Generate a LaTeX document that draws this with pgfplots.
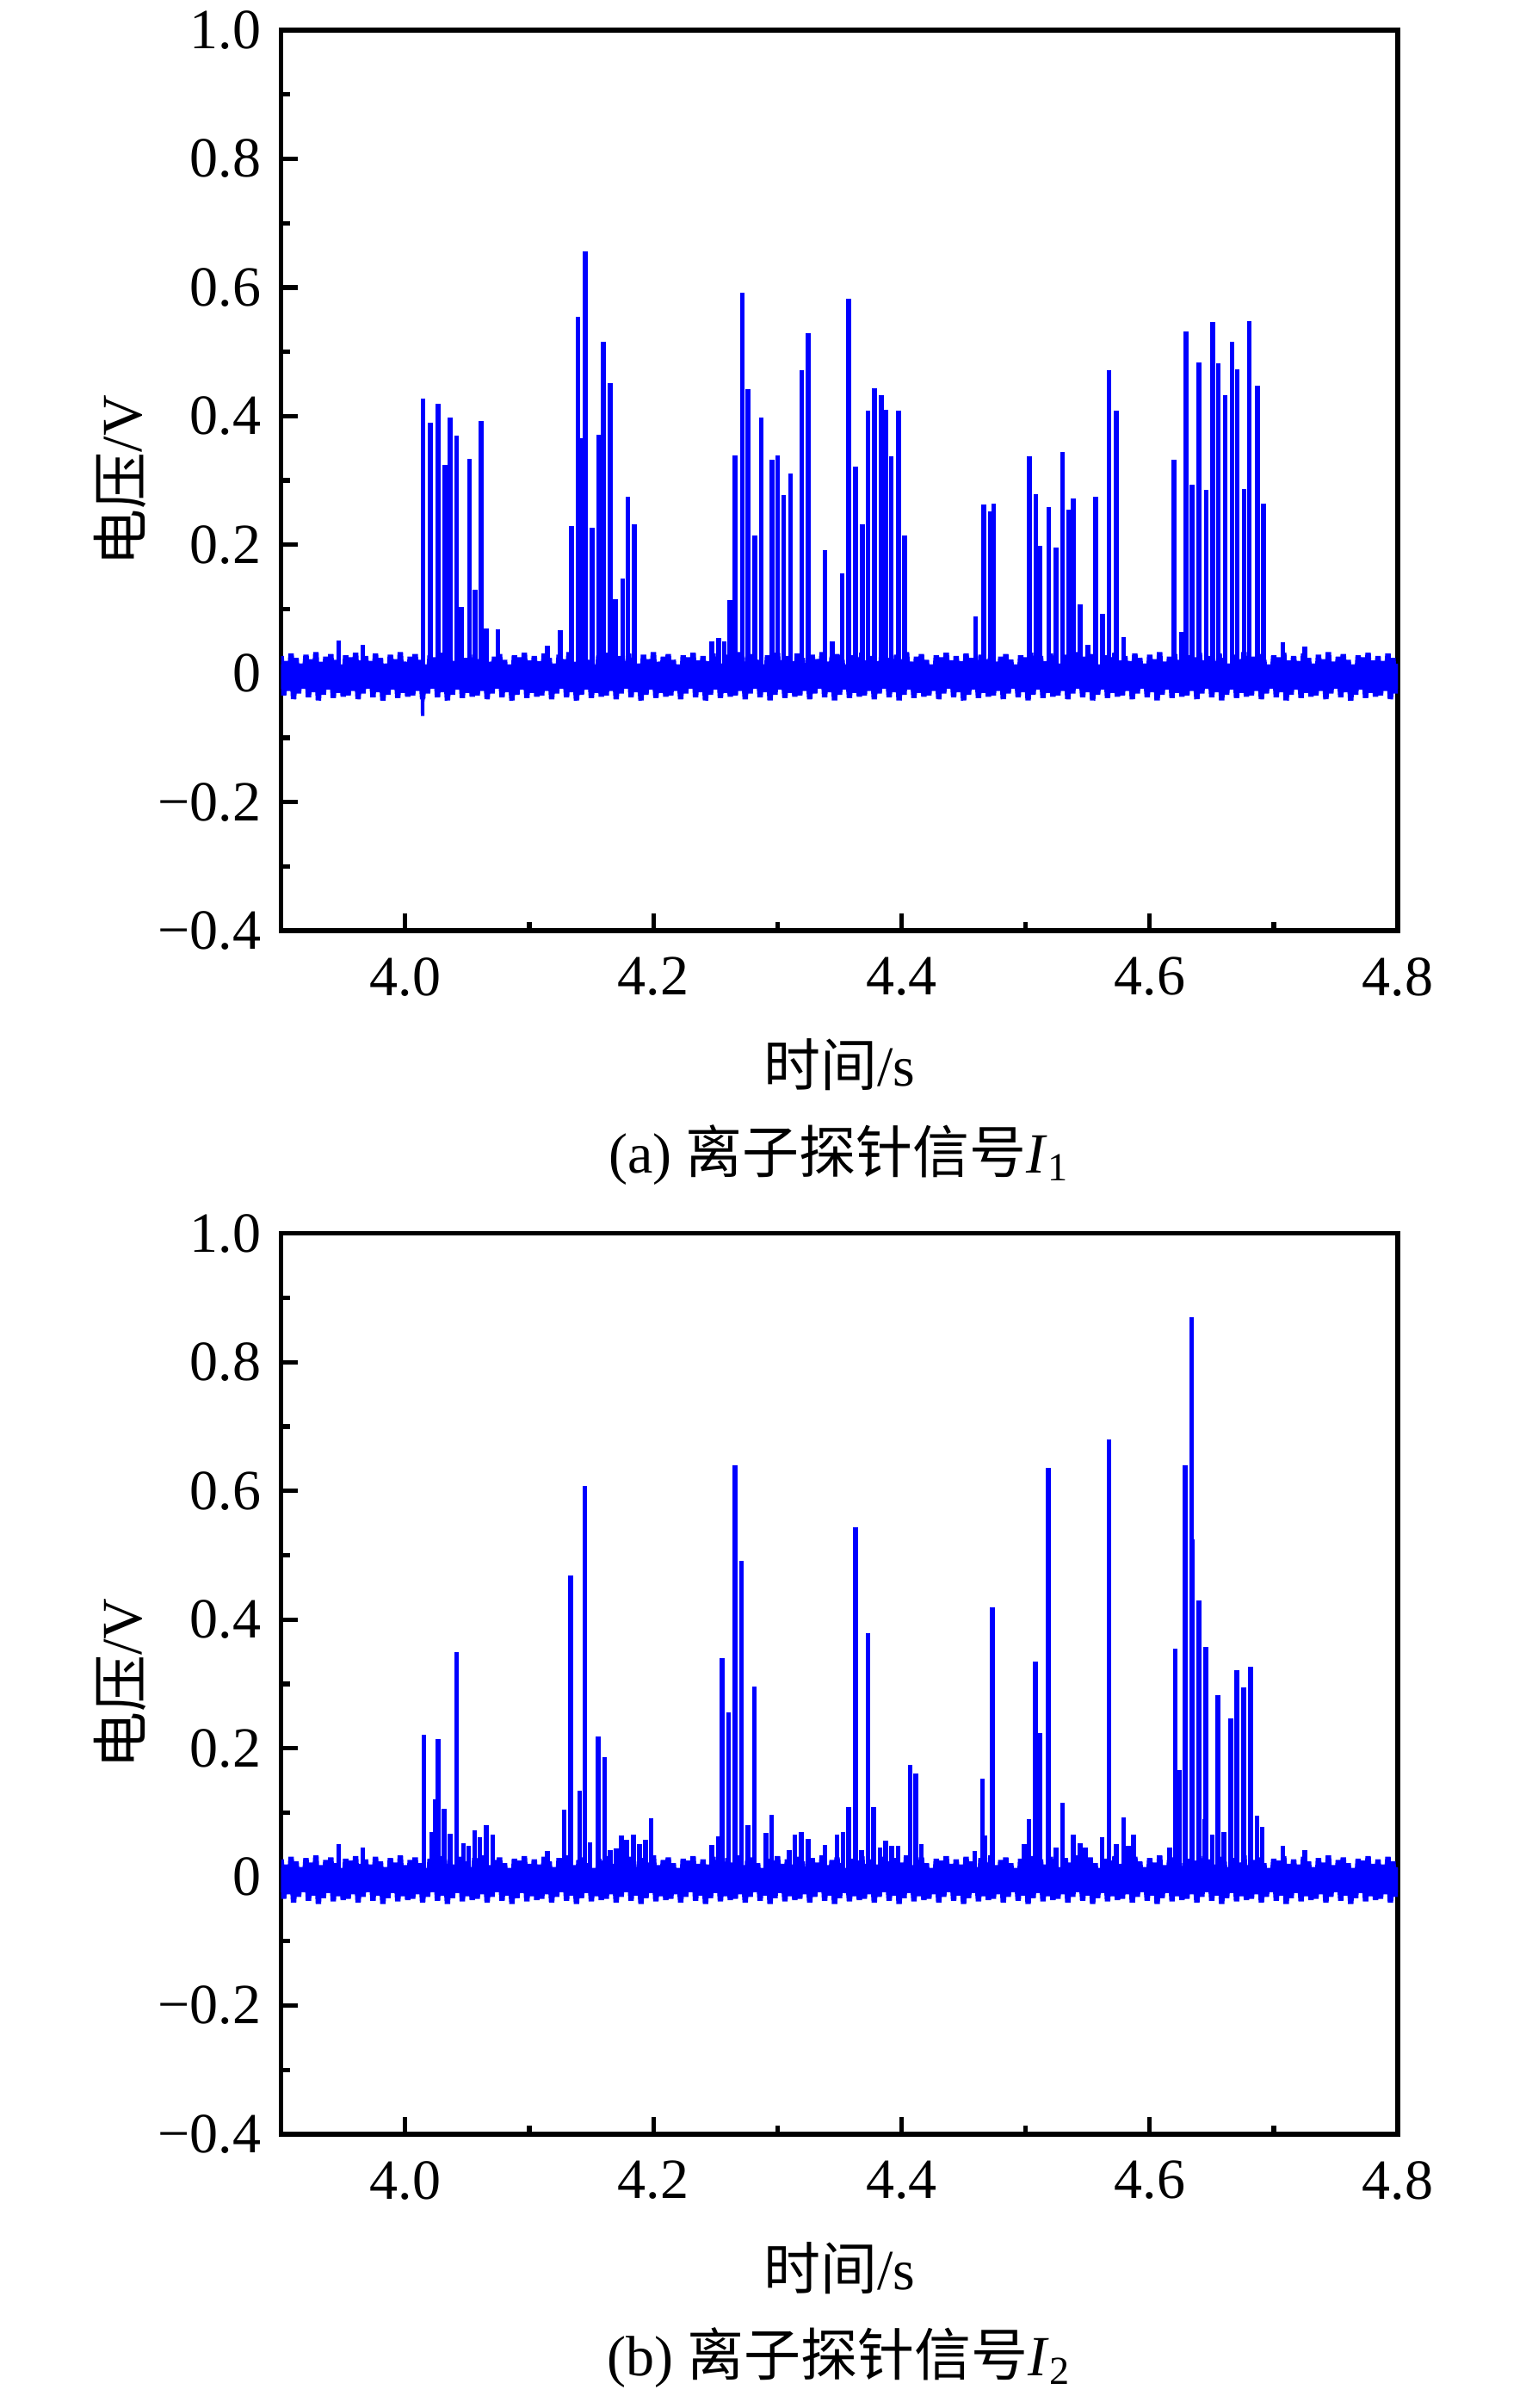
\documentclass[border=0pt]{standalone}
\usepackage{fontspec}
\setmainfont{Liberation Serif}
\newfontfamily\cjk{Noto Sans CJK SC}
\usepackage{pgfplots}
\usepackage{pgfplotstable}
\pgfplotsset{compat=1.18}
\definecolor{sig}{RGB}{0,0,255}

\pgfplotstableread[row sep=\\]{
x y\\
3.900 0.027\\ 3.902 -0.034\\ 3.904 0.019\\ 3.906 -0.027\\ 3.908 0.031\\ 3.910 -0.040\\ 3.912 0.024\\ 3.914 -0.031\\
3.916 0.015\\ 3.918 -0.022\\ 3.920 0.029\\ 3.922 -0.037\\ 3.924 0.022\\ 3.926 -0.029\\ 3.928 0.033\\ 3.930 -0.042\\
3.932 0.018\\ 3.934 -0.033\\ 3.936 0.026\\ 3.938 -0.025\\ 3.940 0.030\\ 3.942 -0.038\\ 3.944 0.021\\ 3.946 -0.030\\
3.948 0.013\\ 3.950 -0.036\\ 3.952 0.028\\ 3.954 -0.034\\ 3.956 0.025\\ 3.958 -0.027\\ 3.960 0.032\\ 3.962 -0.040\\
3.964 0.020\\ 3.966 -0.031\\ 3.968 0.027\\ 3.970 -0.022\\ 3.972 0.019\\ 3.974 -0.037\\ 3.976 0.031\\ 3.978 -0.029\\
3.980 0.024\\ 3.982 -0.042\\ 3.984 0.015\\ 3.986 -0.033\\ 3.988 0.029\\ 3.990 -0.025\\ 3.992 0.022\\ 3.994 -0.038\\
3.996 0.033\\ 3.998 -0.030\\ 4.000 0.018\\ 4.002 -0.036\\ 4.004 0.026\\ 4.006 -0.034\\ 4.008 0.030\\ 4.010 -0.027\\
4.012 0.021\\ 4.014 -0.040\\ 4.016 0.013\\ 4.018 -0.031\\ 4.020 0.028\\ 4.022 -0.022\\ 4.024 0.025\\ 4.026 -0.037\\
4.028 0.032\\ 4.030 -0.029\\ 4.032 0.020\\ 4.034 -0.042\\ 4.036 0.027\\ 4.038 -0.033\\ 4.040 0.019\\ 4.042 -0.025\\
4.044 0.031\\ 4.046 -0.038\\ 4.048 0.024\\ 4.050 -0.030\\ 4.052 0.015\\ 4.054 -0.036\\ 4.056 0.029\\ 4.058 -0.034\\
4.060 0.022\\ 4.062 -0.027\\ 4.064 0.033\\ 4.066 -0.040\\ 4.068 0.018\\ 4.070 -0.031\\ 4.072 0.026\\ 4.074 -0.022\\
4.076 0.030\\ 4.078 -0.037\\ 4.080 0.021\\ 4.082 -0.029\\ 4.084 0.013\\ 4.086 -0.042\\ 4.088 0.028\\ 4.090 -0.033\\
4.092 0.025\\ 4.094 -0.025\\ 4.096 0.032\\ 4.098 -0.038\\ 4.100 0.020\\ 4.102 -0.030\\ 4.104 0.027\\ 4.106 -0.036\\
4.108 0.019\\ 4.110 -0.034\\ 4.112 0.031\\ 4.114 -0.027\\ 4.116 0.024\\ 4.118 -0.040\\ 4.120 0.015\\ 4.122 -0.031\\
4.124 0.029\\ 4.126 -0.022\\ 4.128 0.022\\ 4.130 -0.037\\ 4.132 0.033\\ 4.134 -0.029\\ 4.136 0.018\\ 4.138 -0.042\\
4.140 0.026\\ 4.142 -0.033\\ 4.144 0.030\\ 4.146 -0.025\\ 4.148 0.021\\ 4.150 -0.038\\ 4.152 0.013\\ 4.154 -0.030\\
4.156 0.028\\ 4.158 -0.036\\ 4.160 0.025\\ 4.162 -0.034\\ 4.164 0.032\\ 4.166 -0.027\\ 4.168 0.020\\ 4.170 -0.040\\
4.172 0.027\\ 4.174 -0.031\\ 4.176 0.019\\ 4.178 -0.022\\ 4.180 0.031\\ 4.182 -0.037\\ 4.184 0.024\\ 4.186 -0.029\\
4.188 0.015\\ 4.190 -0.042\\ 4.192 0.029\\ 4.194 -0.033\\ 4.196 0.022\\ 4.198 -0.025\\ 4.200 0.033\\ 4.202 -0.038\\
4.204 0.018\\ 4.206 -0.030\\ 4.208 0.026\\ 4.210 -0.036\\ 4.212 0.030\\ 4.214 -0.034\\ 4.216 0.021\\ 4.218 -0.027\\
4.220 0.013\\ 4.222 -0.040\\ 4.224 0.028\\ 4.226 -0.031\\ 4.228 0.025\\ 4.230 -0.022\\ 4.232 0.032\\ 4.234 -0.037\\
4.236 0.020\\ 4.238 -0.029\\ 4.240 0.027\\ 4.242 -0.042\\ 4.244 0.019\\ 4.246 -0.033\\ 4.248 0.031\\ 4.250 -0.025\\
4.252 0.024\\ 4.254 -0.038\\ 4.256 0.015\\ 4.258 -0.030\\ 4.260 0.029\\ 4.262 -0.036\\ 4.264 0.022\\ 4.266 -0.034\\
4.268 0.033\\ 4.270 -0.027\\ 4.272 0.018\\ 4.274 -0.040\\ 4.276 0.026\\ 4.278 -0.031\\ 4.280 0.030\\ 4.282 -0.022\\
4.284 0.021\\ 4.286 -0.037\\ 4.288 0.013\\ 4.290 -0.029\\ 4.292 0.028\\ 4.294 -0.042\\ 4.296 0.025\\ 4.298 -0.033\\
4.300 0.032\\ 4.302 -0.025\\ 4.304 0.020\\ 4.306 -0.038\\ 4.308 0.027\\ 4.310 -0.030\\ 4.312 0.019\\ 4.314 -0.036\\
4.316 0.031\\ 4.318 -0.034\\ 4.320 0.024\\ 4.322 -0.027\\ 4.324 0.015\\ 4.326 -0.040\\ 4.328 0.029\\ 4.330 -0.031\\
4.332 0.022\\ 4.334 -0.022\\ 4.336 0.033\\ 4.338 -0.037\\ 4.340 0.018\\ 4.342 -0.029\\ 4.344 0.026\\ 4.346 -0.042\\
4.348 0.030\\ 4.350 -0.033\\ 4.352 0.021\\ 4.354 -0.025\\ 4.356 0.013\\ 4.358 -0.038\\ 4.360 0.028\\ 4.362 -0.030\\
4.364 0.025\\ 4.366 -0.036\\ 4.368 0.032\\ 4.370 -0.034\\ 4.372 0.020\\ 4.374 -0.027\\ 4.376 0.027\\ 4.378 -0.040\\
4.380 0.019\\ 4.382 -0.031\\ 4.384 0.031\\ 4.386 -0.022\\ 4.388 0.024\\ 4.390 -0.037\\ 4.392 0.015\\ 4.394 -0.029\\
4.396 0.029\\ 4.398 -0.042\\ 4.400 0.022\\ 4.402 -0.033\\ 4.404 0.033\\ 4.406 -0.025\\ 4.408 0.018\\ 4.410 -0.038\\
4.412 0.026\\ 4.414 -0.030\\ 4.416 0.030\\ 4.418 -0.036\\ 4.420 0.021\\ 4.422 -0.034\\ 4.424 0.013\\ 4.426 -0.027\\
4.428 0.028\\ 4.430 -0.040\\ 4.432 0.025\\ 4.434 -0.031\\ 4.436 0.032\\ 4.438 -0.022\\ 4.440 0.020\\ 4.442 -0.037\\
4.444 0.027\\ 4.446 -0.029\\ 4.448 0.019\\ 4.450 -0.042\\ 4.452 0.031\\ 4.454 -0.033\\ 4.456 0.024\\ 4.458 -0.025\\
4.460 0.015\\ 4.462 -0.038\\ 4.464 0.029\\ 4.466 -0.030\\ 4.468 0.022\\ 4.470 -0.036\\ 4.472 0.033\\ 4.474 -0.034\\
4.476 0.018\\ 4.478 -0.027\\ 4.480 0.026\\ 4.482 -0.040\\ 4.484 0.030\\ 4.486 -0.031\\ 4.488 0.021\\ 4.490 -0.022\\
4.492 0.013\\ 4.494 -0.037\\ 4.496 0.028\\ 4.498 -0.029\\ 4.500 0.025\\ 4.502 -0.042\\ 4.504 0.032\\ 4.506 -0.033\\
4.508 0.020\\ 4.510 -0.025\\ 4.512 0.027\\ 4.514 -0.038\\ 4.516 0.019\\ 4.518 -0.030\\ 4.520 0.031\\ 4.522 -0.036\\
4.524 0.024\\ 4.526 -0.034\\ 4.528 0.015\\ 4.530 -0.027\\ 4.532 0.029\\ 4.534 -0.040\\ 4.536 0.022\\ 4.538 -0.031\\
4.540 0.033\\ 4.542 -0.022\\ 4.544 0.018\\ 4.546 -0.037\\ 4.548 0.026\\ 4.550 -0.029\\ 4.552 0.030\\ 4.554 -0.042\\
4.556 0.021\\ 4.558 -0.033\\ 4.560 0.013\\ 4.562 -0.025\\ 4.564 0.028\\ 4.566 -0.038\\ 4.568 0.025\\ 4.570 -0.030\\
4.572 0.032\\ 4.574 -0.036\\ 4.576 0.020\\ 4.578 -0.034\\ 4.580 0.027\\ 4.582 -0.027\\ 4.584 0.019\\ 4.586 -0.040\\
4.588 0.031\\ 4.590 -0.031\\ 4.592 0.024\\ 4.594 -0.022\\ 4.596 0.015\\ 4.598 -0.037\\ 4.600 0.029\\ 4.602 -0.029\\
4.604 0.022\\ 4.606 -0.042\\ 4.608 0.033\\ 4.610 -0.033\\ 4.612 0.018\\ 4.614 -0.025\\ 4.616 0.026\\ 4.618 -0.038\\
4.620 0.030\\ 4.622 -0.030\\ 4.624 0.021\\ 4.626 -0.036\\ 4.628 0.013\\ 4.630 -0.034\\ 4.632 0.028\\ 4.634 -0.027\\
4.636 0.025\\ 4.638 -0.040\\ 4.640 0.032\\ 4.642 -0.031\\ 4.644 0.020\\ 4.646 -0.022\\ 4.648 0.027\\ 4.650 -0.037\\
4.652 0.019\\ 4.654 -0.029\\ 4.656 0.031\\ 4.658 -0.042\\ 4.660 0.024\\ 4.662 -0.033\\ 4.664 0.015\\ 4.666 -0.025\\
4.668 0.029\\ 4.670 -0.038\\ 4.672 0.022\\ 4.674 -0.030\\ 4.676 0.033\\ 4.678 -0.036\\ 4.680 0.018\\ 4.682 -0.034\\
4.684 0.026\\ 4.686 -0.027\\ 4.688 0.030\\ 4.690 -0.040\\ 4.692 0.021\\ 4.694 -0.031\\ 4.696 0.013\\ 4.698 -0.022\\
4.700 0.028\\ 4.702 -0.037\\ 4.704 0.025\\ 4.706 -0.029\\ 4.708 0.032\\ 4.710 -0.042\\ 4.712 0.020\\ 4.714 -0.033\\
4.716 0.027\\ 4.718 -0.025\\ 4.720 0.019\\ 4.722 -0.038\\ 4.724 0.031\\ 4.726 -0.030\\ 4.728 0.024\\ 4.730 -0.036\\
4.732 0.015\\ 4.734 -0.034\\ 4.736 0.029\\ 4.738 -0.027\\ 4.740 0.022\\ 4.742 -0.040\\ 4.744 0.033\\ 4.746 -0.031\\
4.748 0.018\\ 4.750 -0.022\\ 4.752 0.026\\ 4.754 -0.037\\ 4.756 0.030\\ 4.758 -0.029\\ 4.760 0.021\\ 4.762 -0.042\\
4.764 0.013\\ 4.766 -0.033\\ 4.768 0.028\\ 4.770 -0.025\\ 4.772 0.025\\ 4.774 -0.038\\ 4.776 0.032\\ 4.778 -0.030\\
4.780 0.020\\ 4.782 -0.036\\ 4.784 0.027\\ 4.786 -0.034\\ 4.788 0.019\\ 4.790 -0.027\\ 4.792 0.031\\ 4.794 -0.040\\
4.796 0.024\\ 4.798 -0.031\\ 4.800 0.015\\
}\noise

\pgfplotstableread[row sep=\\]{
x y\\
3.9463 0.051\\ 3.9657 0.045\\ 4.0142 0.427\\ 4.0203 0.390\\ 4.0263 0.419\\ 4.0319 0.324\\
4.0362 0.398\\ 4.0415 0.370\\ 4.0454 0.103\\ 4.0517 0.334\\ 4.0563 0.130\\ 4.0610 0.392\\
4.0652 0.070\\ 4.0748 0.068\\ 4.1144 0.043\\ 4.1250 0.067\\ 4.1338 0.229\\ 4.1391 0.554\\
4.1423 0.365\\ 4.1451 0.656\\ 4.1505 0.227\\ 4.1558 0.371\\ 4.1597 0.515\\ 4.1650 0.451\\
4.1692 0.116\\ 4.1753 0.148\\ 4.1795 0.275\\ 4.1848 0.232\\ 4.2470 0.050\\ 4.2524 0.055\\
4.2570 0.050\\ 4.2616 0.114\\ 4.2658 0.339\\ 4.2718 0.592\\ 4.2761 0.442\\ 4.2817 0.214\\
4.2870 0.398\\ 4.2956 0.332\\ 4.3001 0.339\\ 4.3051 0.277\\ 4.3104 0.311\\ 4.3196 0.472\\
4.3246 0.529\\ 4.3384 0.191\\ 4.3440 0.050\\ 4.3522 0.155\\ 4.3574 0.583\\ 4.3628 0.322\\
4.3684 0.232\\ 4.3730 0.409\\ 4.3783 0.443\\ 4.3836 0.432\\ 4.3875 0.410\\ 4.3917 0.338\\
4.3974 0.409\\ 4.4024 0.215\\ 4.4596 0.088\\ 4.4662 0.262\\ 4.4714 0.252\\ 4.4742 0.264\\
4.5029 0.338\\ 4.5081 0.278\\ 4.5116 0.198\\ 4.5185 0.258\\ 4.5244 0.195\\ 4.5297 0.344\\
4.5345 0.255\\ 4.5383 0.272\\ 4.5440 0.107\\ 4.5500 0.045\\ 4.5563 0.274\\ 4.5618 0.092\\
4.5671 0.472\\ 4.5731 0.408\\ 4.5789 0.057\\ 4.6194 0.332\\ 4.6255 0.065\\ 4.6291 0.531\\
4.6340 0.293\\ 4.6398 0.483\\ 4.6456 0.285\\ 4.6506 0.546\\ 4.6553 0.482\\ 4.6607 0.432\\
4.6665 0.516\\ 4.6705 0.473\\ 4.6760 0.286\\ 4.6803 0.548\\ 4.6869 0.447\\ 4.6915 0.264\\
4.7074 0.048\\ 4.7250 0.042\\
}\topspikes

\pgfplotstableread[row sep=\\]{
x y\\
3.9463 0.051\\ 3.9657 0.045\\ 4.0149 0.221\\ 4.0213 0.070\\ 4.0245 0.120\\ 4.0263 0.214\\
4.0312 0.106\\ 4.0362 0.067\\ 4.0415 0.350\\ 4.0468 0.052\\ 4.0510 0.048\\ 4.0560 0.072\\
4.0600 0.061\\ 4.0652 0.081\\ 4.0705 0.065\\ 4.1144 0.040\\ 4.1282 0.104\\ 4.1332 0.468\\
4.1406 0.134\\ 4.1448 0.607\\ 4.1490 0.054\\ 4.1554 0.218\\ 4.1607 0.186\\ 4.1650 0.042\\
4.1700 0.044\\ 4.1743 0.064\\ 4.1785 0.058\\ 4.1841 0.065\\ 4.1890 0.051\\ 4.1935 0.058\\
4.1982 0.091\\ 4.2470 0.049\\ 4.2524 0.063\\ 4.2552 0.340\\ 4.2605 0.256\\ 4.2658 0.640\\
4.2711 0.491\\ 4.2761 0.080\\ 4.2813 0.296\\ 4.2907 0.068\\ 4.2952 0.096\\ 4.3093 0.042\\
4.3141 0.065\\ 4.3194 0.070\\ 4.3246 0.059\\ 4.3384 0.049\\ 4.3481 0.065\\ 4.3528 0.070\\
4.3574 0.109\\ 4.3628 0.543\\ 4.3678 0.042\\ 4.3730 0.379\\ 4.3776 0.109\\ 4.3827 0.046\\
4.3872 0.056\\ 4.3922 0.048\\ 4.3972 0.048\\ 4.4070 0.174\\ 4.4116 0.161\\ 4.4160 0.051\\
4.4590 0.040\\ 4.4653 0.152\\ 4.4670 0.064\\ 4.4734 0.419\\ 4.4990 0.051\\ 4.5026 0.090\\
4.5078 0.334\\ 4.5118 0.223\\ 4.5182 0.636\\ 4.5245 0.045\\ 4.5297 0.115\\ 4.5383 0.065\\
4.5440 0.052\\ 4.5480 0.045\\ 4.5616 0.061\\ 4.5671 0.680\\ 4.5731 0.051\\ 4.5789 0.093\\
4.5826 0.048\\ 4.5868 0.065\\ 4.6160 0.045\\ 4.6205 0.355\\ 4.6240 0.166\\ 4.6286 0.640\\
4.6338 0.870\\ 4.6345 0.525\\ 4.6395 0.429\\ 4.6447 0.090\\ 4.6452 0.357\\ 4.6505 0.065\\
4.6550 0.282\\ 4.6600 0.070\\ 4.6654 0.246\\ 4.6700 0.321\\ 4.6757 0.294\\ 4.6815 0.326\\
4.6864 0.095\\ 4.6906 0.078\\ 4.7074 0.048\\ 4.7250 0.042\\
}\botspikes

\pgfplotsset{sigaxis/.style={
  scale only axis, width=196.6pt, height=158.5pt,
  xmin=3.9, xmax=4.8, ymin=-0.4, ymax=1.0,
  xtick={4.0,4.2,4.4,4.6,4.8}, xticklabels={4.0,4.2,4.4,4.6,4.8},
  minor xtick={4.1,4.3,4.5,4.7},
  ytick={-0.4,-0.2,0,0.2,0.4,0.6,0.8,1.0},
  yticklabels={−0.4,−0.2,0,0.2,0.4,0.6,0.8,1.0},
  minor ytick={-0.3,-0.1,0.1,0.3,0.5,0.7,0.9},
  tick align=inside, xtick pos=left, ytick pos=left,
  major tick length=3pt, minor tick length=1.5pt,
  tick style={black, line width=0.8pt},
  axis line style={line width=0.8pt},
  xticklabel shift=1.2pt,
  xlabel={{\cjk 时间}/s}, ylabel={{\cjk 电压}/V},
  xlabel style={at={(axis description cs:0.5,-0.149)}, anchor=center},
  ylabel style={at={(axis description cs:-0.1445,0.5)}, anchor=center},
}}

\begin{document}
\begin{tikzpicture}
\useasboundingbox (-49.5pt,-260.0pt) rectangle (219.0pt,163.8pt);
\begin{axis}[sigaxis, name=ta, at={(0pt,0pt)}, anchor=south west]
\addplot[fill=sig, draw=none] coordinates {(3.9,0.014) (4.8,0.014) (4.8,-0.024) (3.9,-0.024)} \closedcycle;
\addplot[sig, line width=0.95pt] table {\noise};
\addplot[sig, line width=0.6pt] coordinates {(4.0135,0) (4.0140,-0.066) (4.0145,0)};
\addplot[sig, ycomb, line width=0.85pt] table {\topspikes};
\end{axis}
\node at ([yshift=-39.4pt]ta.south) {(a) {\cjk 离子探针信号}\textit{I}\textsubscript{1}};
\begin{axis}[sigaxis, name=tb, at={(0pt,-211.8pt)}, anchor=south west]
\addplot[fill=sig, draw=none] coordinates {(3.9,0.014) (4.8,0.014) (4.8,-0.024) (3.9,-0.024)} \closedcycle;
\addplot[sig, line width=0.95pt] table {\noise};
\addplot[sig, ycomb, line width=0.85pt] table {\botspikes};
\end{axis}
\node at ([yshift=-39.4pt]tb.south) {(b) {\cjk 离子探针信号}\textit{I}\textsubscript{2}};
\end{tikzpicture}
\end{document}
